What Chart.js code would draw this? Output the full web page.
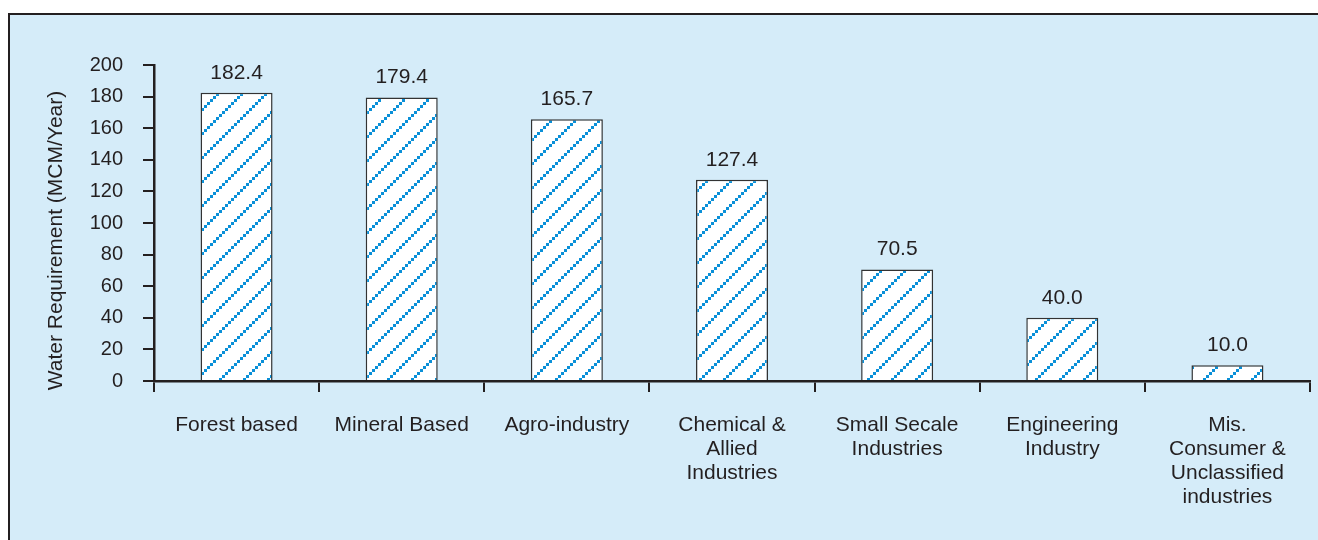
<!DOCTYPE html>
<html>
<head>
<meta charset="utf-8">
<title>Water Requirement by Industry</title>
<script src="https://cdn.jsdelivr.net/npm/chart.js@4.4.0/dist/chart.umd.min.js"></script>
<style>
  html, body {
    margin: 0;
    padding: 0;
    background: #fff;
    width: 1318px;
    height: 540px;
    overflow: hidden;
  }

  .panel {
    position: absolute;
    left: 8px;
    top: 13px;
    width: 1310px;
    height: 527px;
    background: #d5ecf9;
    border-left: 2px solid #231f20;
    border-top: 2px solid #231f20;
  }

  #chart {
    position: absolute;
    left: 0;
    top: 0;
  }
</style>
</head>
<body>
<div class="panel"></div>
<canvas id="chart" width="1318" height="540"></canvas>

<script>
  // data
  var categories = [
    ['Forest based'],
    ['Mineral Based'],
    ['Agro-industry'],
    ['Chemical &', 'Allied', 'Industries'],
    ['Small Secale', 'Industries'],
    ['Engineering', 'Industry'],
    ['Mis.', 'Consumer &', 'Unclassified', 'industries']
  ];
  var waterReq = [182.4, 179.4, 165.7, 127.4, 70.5, 40.0, 10.0];
  var yTicks = [0, 20, 40, 60, 80, 100, 120, 140, 160, 180, 200];

  var ink = '#231f20';
  var font = 'Arial, "Liberation Sans", sans-serif';

  // hatch: white with blue dotted diagonals
  function makeHatch(ctx) {
    var tile = document.createElement('canvas');
    tile.width = 24;
    tile.height = 24;
    var t = tile.getContext('2d');
    t.fillStyle = '#ffffff';
    t.fillRect(0, 0, 24, 24);
    t.fillStyle = '#0a90d8';
    for (var i = 0; i < 8; i++) {
      t.fillRect(i * 3, 24 - (i + 1) * 3, 3, 3);
    }
    return ctx.createPattern(tile, 'repeat');
  }

  var valueLabels = {
    id: 'valueLabels',
    afterDatasetsDraw: function (chart) {
      var ctx = chart.ctx;
      var meta = chart.getDatasetMeta(0);
      ctx.save();
      ctx.fillStyle = ink;
      ctx.font = '21px ' + font;
      ctx.textAlign = 'center';
      ctx.textBaseline = 'middle';
      meta.data.forEach(function (bar, i) {
        ctx.fillText(waterReq[i].toFixed(1), bar.x, bar.y - 20);
      });
      ctx.restore();
    }
  };

  var ctx = document.getElementById('chart').getContext('2d');

  new Chart(ctx, {
    type: 'bar',
    data: {
      labels: categories,
      datasets: [{
        data: waterReq,
        backgroundColor: makeHatch(ctx),
        borderColor: '#333333',
        borderWidth: 1.5,
        borderSkipped: 'bottom',
        barPercentage: 0.436,
        categoryPercentage: 1
      }]
    },
    options: {
      responsive: false,
      animation: false,
      layout: {
        padding: { left: 44, top: 65, right: 8, bottom: 0 }
      },
      plugins: {
        legend: { display: false },
        tooltip: { enabled: false }
      },
      scales: {
        x: {
          grid: {
            display: true,
            offset: true,
            drawOnChartArea: false,
            drawTicks: true,
            tickLength: 11,
            color: ink,
            lineWidth: 2
          },
          border: { display: true, color: ink, width: 2.5 },
          ticks: {
            color: ink,
            padding: 21,
            maxRotation: 0,
            autoSkip: false,
            font: { family: font, size: 21, lineHeight: 24 / 21 }
          },
          afterFit: function (scale) {
            scale.height = 159;
          }
        },
        y: {
          min: 0,
          max: 200,
          afterBuildTicks: function (scale) {
            scale.ticks = yTicks.map(function (v) { return { value: v }; });
          },
          grid: {
            display: true,
            drawOnChartArea: false,
            drawTicks: true,
            tickLength: 11,
            color: ink,
            lineWidth: 2
          },
          border: { display: true, color: ink, width: 2.5 },
          ticks: {
            color: ink,
            padding: 20,
            font: { family: font, size: 20 }
          },
          title: {
            display: true,
            text: 'Water Requirement (MCM/Year)      ',
            color: ink,
            padding: 0,
            font: { family: font, size: 21 }
          },
          afterFit: function (scale) {
            scale.width = 110;
          }
        }
      }
    },
    plugins: [valueLabels]
  });
</script>
</body>
</html>
